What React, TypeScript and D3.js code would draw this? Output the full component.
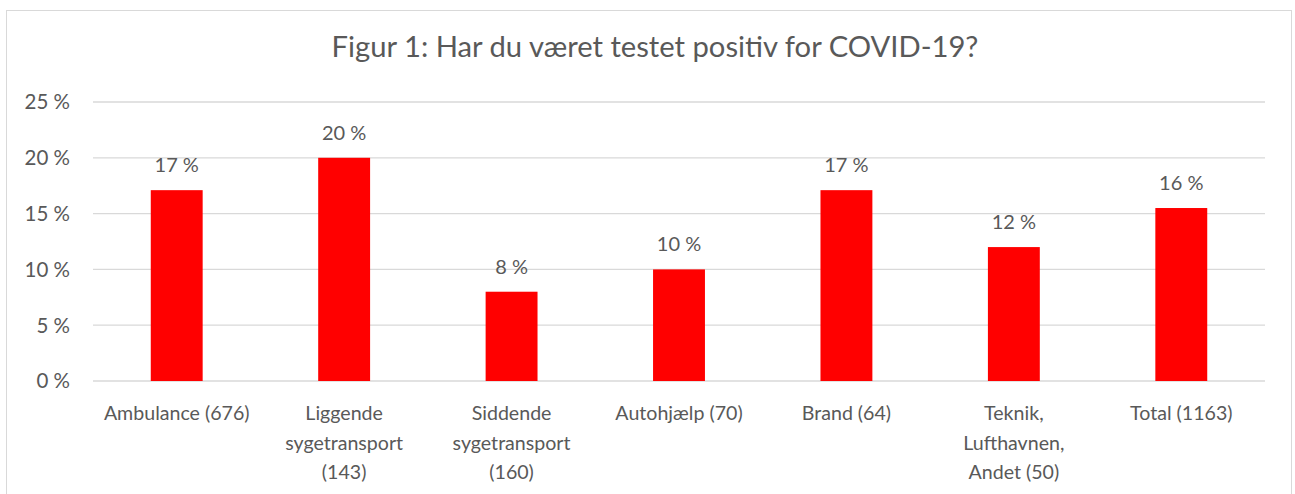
import React from "react";
import * as d3 from "d3";

// categories (label lines) and values
const categories = [
  ["Ambulance (676)"],
  ["Liggende", "sygetransport", "(143)"],
  ["Siddende", "sygetransport", "(160)"],
  ["Autohjælp (70)"],
  ["Brand (64)"],
  ["Teknik,", "Lufthavnen,", "Andet (50)"],
  ["Total (1163)"],
];
const values = [17.1, 20.0, 8.0, 10.0, 17.1, 12.0, 15.5];
const yTicks = [0, 5, 10, 15, 20, 25];
const title = "Figur 1: Har du været testet positiv for COVID-19?";

const width = 1295;
const height = 494;
const font = "Lato, 'Open Sans', sans-serif";
const textColor = "#595959";

const App = () => {
  const keys = categories.map((c) => c.join(" "));

  const x = d3.scaleBand<string>().domain(keys).range([93, 1265]).padding(0);
  const y = d3.scaleLinear().domain([0, 25]).range([381, 102]);
  const barWidth = x.bandwidth() * 0.31;

  return (
    <svg
      width={width}
      height={height}
      style={{ position: "absolute", left: 0, top: 0, background: "#fff" }}
      fontFamily={font}
    >
      <rect x={0} y={0} width={width} height={height} fill="#fff" />
      <rect x={6.5} y={10.5} width={1285} height={height + 10} fill="#fff" stroke="#d9d9d9" />

      <text x={655} y={57} textAnchor="middle" fontSize={29.2} fill={textColor}>
        {title}
      </text>

      {/* grid and y ticks */}
      {yTicks.map((t) => (
        <g key={t}>
          <line x1={93} x2={1265} y1={y(t)} y2={y(t)} stroke="#d9d9d9" strokeWidth={1.3} />
          <text x={70} y={y(t)} dy="0.36em" textAnchor="end" fontSize={20.5} fill={textColor}>
            {t} %
          </text>
        </g>
      ))}

      {/* bars */}
      {values.map((v, i) => {
        const cx = (x(keys[i]) as number) + x.bandwidth() / 2;
        return (
          <g key={keys[i]}>
            <rect x={cx - barWidth / 2} y={y(v)} width={barWidth} height={y(0) - y(v)} fill="#ff0000" />
            <text x={cx} y={y(v) - 18} textAnchor="middle" fontSize={20} fill={textColor}>
              {Math.round(v)} %
            </text>
          </g>
        );
      })}

      {/* x labels */}
      {categories.map((lines, i) => {
        const cx = (x(keys[i]) as number) + x.bandwidth() / 2;
        return (
          <text key={keys[i]} textAnchor="middle" fontSize={19.6} fill={textColor}>
            {lines.map((l, j) => (
              <tspan key={j} x={cx} y={413 + j * 29.5} dy="0.36em">
                {l}
              </tspan>
            ))}
          </text>
        );
      })}
    </svg>
  );
};

export default App;
